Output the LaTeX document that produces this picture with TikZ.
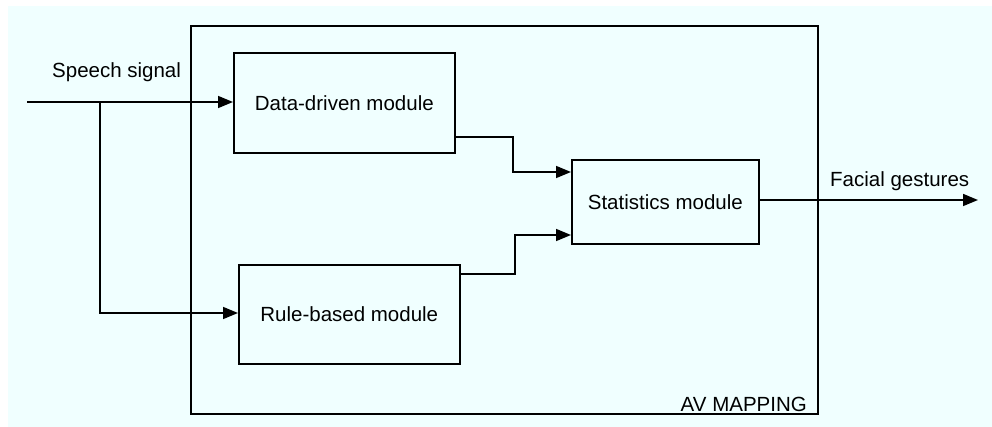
\documentclass[tikz,border=0pt]{standalone}
\usepackage{fontspec}
\setmainfont{Liberation Sans}
\usetikzlibrary{arrows.meta}
\definecolor{paper}{HTML}{F0FFFF}
\tikzset{
  x=1pt, y=-1pt,
  wire/.style={line width=1.6pt, line join=miter},
  flow/.style={wire, -{Triangle[length=15pt,width=12pt]}},
  modbox/.style={draw, line width=1.6pt, rectangle, inner sep=0pt, anchor=north west, font=\fontsize{20.5}{24}\selectfont},
  lbl/.style={font=\fontsize{20.5}{24}\selectfont, inner sep=0pt}
}
\begin{document}
\begin{tikzpicture}
\useasboundingbox (0,0) rectangle (992,427);
\fill[paper] (8,6) rectangle (992,427);

% enclosing AV mapping frame
\node[modbox, minimum width=627pt, minimum height=388pt] (frame) at (190,25) {};
\node[lbl, anchor=base east] (avlbl) at (807,411) {AV MAPPING};

% modules
\node[modbox, minimum width=221pt, minimum height=100pt] (data) at (233,52) {Data-driven module};
\node[modbox, minimum width=221pt, minimum height=99pt] (rule) at (238,264) {Rule-based module};
\node[modbox, minimum width=187pt, minimum height=84pt] (stats) at (571,159) {Statistics module};

% inputs and outputs
\coordinate (in) at (27,102);
\coordinate (split) at (100,102);
\coordinate (out) at (978,200);
\node[lbl, anchor=base west] (speech) at (52,78) {Speech signal};
\node[lbl, anchor=base west] (facial) at (830,187) {Facial gestures};

% connectors
\draw[flow] (in) -- (data.west |- in);
\draw[flow] (split) |- (rule.west |- 0,313);
\draw[flow] (data.east |- 0,137) -- (513,137) |- (stats.west |- 0,172);
\draw[flow] (rule.east |- 0,274) -- (515,274) |- (stats.west |- 0,235);
\draw[flow] (stats.east |- out) -- (out);
\end{tikzpicture}
\end{document}
